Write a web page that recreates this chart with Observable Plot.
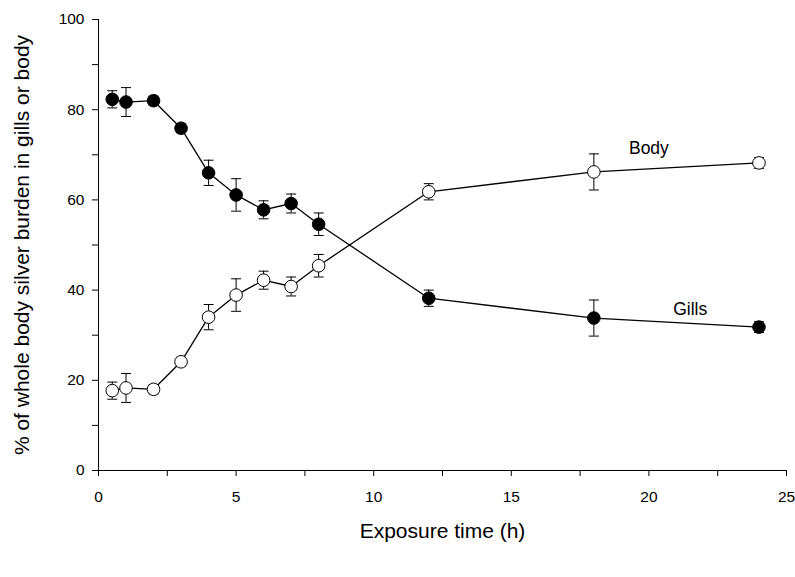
<!DOCTYPE html>
<html>
<head>
<meta charset="utf-8">
<script src="https://cdn.jsdelivr.net/npm/d3@7"></script>
<script src="https://cdn.jsdelivr.net/npm/@observablehq/plot@0.6"></script>
<style>
  html, body { margin: 0; padding: 0; background: #fff; }
</style>
</head>
<body>
<div id="chart"></div>
<script>
const time   = [0.5, 1, 2, 3, 4, 5, 6, 7, 8, 12, 18, 24];
const gills  = [82.3, 81.7, 82.0, 75.9, 66.0, 61.1, 57.8, 59.2, 54.6, 38.2, 33.8, 31.8];
const bodyV  = [17.7, 18.3, 18.0, 24.1, 34.0, 38.9, 42.2, 40.8, 45.4, 61.8, 66.2, 68.2];
const errs   = [1.9, 3.2, 1.0, 1.0, 2.8, 3.6, 2.0, 2.1, 2.5, 1.8, 4.0, 1.2];
const xTicks = [0, 5, 10, 15, 20, 25];
const xMinor = [2.5, 7.5, 12.5, 17.5, 22.5];
const yTicks = [0, 20, 40, 60, 80, 100];
const yMinor = [10, 30, 50, 70, 90];
const seriesLabels = [
  {name: "Body", x: 20, y: 71.4},
  {name: "Gills", x: 21.5, y: 35.7}
];
const xTitle = "Exposure time (h)";
const yTitle = "% of whole body silver burden in gills or body";

const rows = [];
time.forEach((t, i) => {
  rows.push({series: "Gills", t, v: gills[i], e: errs[i]});
  rows.push({series: "Body", t, v: bodyV[i], e: errs[i]});
});

const capSymbol = {
  draw(ctx) { ctx.moveTo(-5, 0); ctx.lineTo(5, 0); }
};

const chart = Plot.plot({
  width: 795,
  height: 577,
  marginLeft: 98,
  marginRight: 9,
  marginTop: 19,
  marginBottom: 107,
  style: {fontFamily: "'Liberation Sans', Arial, sans-serif", fontSize: "16px", color: "#000", background: "#fff"},
  x: {domain: [0, 25]},
  y: {domain: [0, 100]},
  marks: [
    Plot.axisX({ticks: xTicks, tickSize: 6, tickPadding: 14, fontSize: 15.5, label: null, stroke: "#000"}),
    Plot.axisX({ticks: xMinor, tickSize: 6, text: null, label: null, stroke: "#000"}),
    Plot.axisY({ticks: yTicks, tickSize: 6, tickPadding: 8, fontSize: 15.5, label: null, stroke: "#000"}),
    Plot.axisY({ticks: yMinor, tickSize: 6, text: null, label: null, stroke: "#000"}),
    Plot.ruleY([0], {stroke: "#000", strokeWidth: 1}),
    Plot.ruleX([0], {stroke: "#000", strokeWidth: 1}),
    Plot.line(rows, {x: "t", y: "v", z: "series", stroke: "#000", strokeWidth: 1.3}),
    Plot.ruleX(rows, {x: "t", y1: d => d.v - d.e, y2: d => d.v + d.e, stroke: "#000", strokeWidth: 1}),
    Plot.dot(rows, {x: "t", y: d => d.v + d.e, symbol: capSymbol, stroke: "#000", strokeWidth: 1}),
    Plot.dot(rows, {x: "t", y: d => d.v - d.e, symbol: capSymbol, stroke: "#000", strokeWidth: 1}),
    Plot.dot(rows, {x: "t", y: "v", r: 6.3, stroke: "#000", strokeWidth: 1,
      fill: d => d.series === "Gills" ? "#000" : "#fff"}),
    Plot.text(seriesLabels, {x: "x", y: "y", text: "name", fontSize: 17.5, fill: "#000"}),
    Plot.text([xTitle], {frameAnchor: "bottom", dy: 67, fontSize: 21, fill: "#000", textAnchor: "middle"}),
    Plot.text([yTitle], {frameAnchor: "left", dx: -76, rotate: -90, fontSize: 21, fill: "#000", textAnchor: "middle"})
  ]
});
document.getElementById("chart").appendChild(chart);
</script>
</body>
</html>
